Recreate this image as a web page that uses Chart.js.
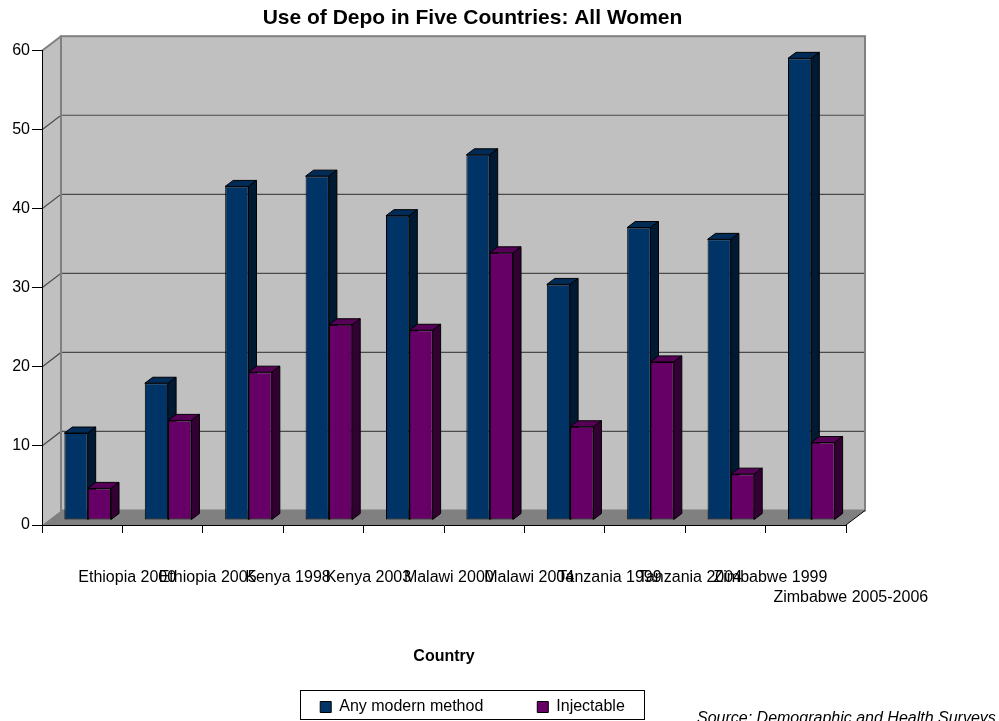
<!DOCTYPE html>
<html>
<head>
<meta charset="utf-8">
<script src="https://cdn.jsdelivr.net/npm/chart.js@4/dist/chart.umd.min.js"></script>
<style>
  html, body { margin: 0; padding: 0; background: #ffffff; }
  canvas { display: block; }
</style>
</head>
<body>
<canvas id="chart" width="999" height="721"></canvas>
<script>
// Survey rounds shown along the x axis
const categories = [
  'Ethiopia 2000', 'Ethiopia 2005', 'Kenya 1998', 'Kenya 2003', 'Malawi 2000',
  'Malawi 2004', 'Tanzania 1999', 'Tanzania 2004', 'Zimbabwe 1999', 'Zimbabwe 2005-2006'
];
// Percent of all women using each method
const anyModernMethod = [11.0, 17.3, 42.2, 43.5, 38.5, 46.2, 29.8, 37.0, 35.5, 58.4];
const injectable      = [4.0, 12.6, 18.7, 24.7, 24.0, 33.8, 11.8, 20.0, 5.8, 9.8];
const yTicks = [0, 10, 20, 30, 40, 50, 60];

const FONT = "'Liberation Sans', Arial, Helvetica, sans-serif";

// Depth of the box (walls, floor) and of the bars
const WALL_DX = 19, WALL_DY = 14.5;
const BAR_SHIFT_X = 5.5, BAR_SHIFT_Y = 5;
const BAR_DX = 8, BAR_DY = 6;

Chart.defaults.font.family = FONT;
Chart.defaults.font.size = 16;
Chart.defaults.color = '#000000';

function poly(ctx, pts, fill, stroke, lw) {
  ctx.beginPath();
  ctx.moveTo(pts[0][0], pts[0][1]);
  for (let i = 1; i < pts.length; i++) ctx.lineTo(pts[i][0], pts[i][1]);
  ctx.closePath();
  if (fill) { ctx.fillStyle = fill; ctx.fill(); }
  if (stroke) { ctx.strokeStyle = stroke; ctx.lineWidth = lw || 1; ctx.stroke(); }
}

// Walls, floor, wall gridlines and bar depth faces
const box3d = {
  id: 'box3d',
  beforeDraw(chart) {
    const ctx = chart.ctx;
    const {left, right, top, bottom} = chart.chartArea;
    const yScale = chart.scales.y;
    ctx.save();
    // side wall
    poly(ctx, [[left, top], [left + WALL_DX, top - WALL_DY], [left + WALL_DX, bottom - WALL_DY], [left, bottom]], '#c0c0c0');
    // back wall
    ctx.fillStyle = '#c0c0c0';
    ctx.fillRect(left + WALL_DX, top - WALL_DY, right - left, bottom - top);
    // gridlines across side and back walls
    ctx.strokeStyle = '#4a4a4a';
    ctx.lineWidth = 1.2;
    yScale.ticks.forEach(t => {
      if (t.value === yScale.min || t.value === yScale.max) return;
      const py = yScale.getPixelForValue(t.value);
      ctx.beginPath();
      ctx.moveTo(left, py);
      ctx.lineTo(left + WALL_DX, py - WALL_DY);
      ctx.lineTo(right + WALL_DX, py - WALL_DY);
      ctx.stroke();
    });
    // wall outlines
    ctx.strokeStyle = '#808080';
    ctx.lineWidth = 2;
    ctx.strokeRect(left + WALL_DX, top - WALL_DY, right - left, bottom - top);
    ctx.beginPath();
    ctx.moveTo(left, top);
    ctx.lineTo(left + WALL_DX, top - WALL_DY);
    ctx.stroke();
    // floor
    poly(ctx, [[left, bottom], [right, bottom], [right + WALL_DX, bottom - WALL_DY], [left + WALL_DX, bottom - WALL_DY]], '#808080');
    ctx.strokeStyle = '#000000';
    ctx.lineWidth = 1;
    ctx.beginPath();
    ctx.moveTo(right, bottom);
    ctx.lineTo(right + WALL_DX, bottom - WALL_DY);
    ctx.stroke();
    ctx.restore();
  },
  beforeDatasetsDraw(chart) {
    const ctx = chart.ctx;
    ctx.save();
    ctx.translate(BAR_SHIFT_X, -BAR_SHIFT_Y);
    // top and side faces go down first; the front faces drawn by the
    // library afterwards cover whatever lies behind them
    chart.data.datasets.forEach((ds, i) => {
      chart.getDatasetMeta(i).data.forEach(bar => {
        const {x, y, base, width} = bar.getProps(['x', 'y', 'base', 'width'], true);
        const x0 = x - width / 2, x1 = x + width / 2;
        poly(ctx, [[x0, y], [x1, y], [x1 + BAR_DX, y - BAR_DY], [x0 + BAR_DX, y - BAR_DY]], ds.topColor, '#000000', 1);
        poly(ctx, [[x1, y], [x1 + BAR_DX, y - BAR_DY], [x1 + BAR_DX, base - BAR_DY], [x1, base]], ds.sideColor, '#000000', 1);
      });
    });
  },
  afterDatasetsDraw(chart) {
    chart.ctx.restore();
  },
  afterDraw(chart) {
    const ctx = chart.ctx;
    ctx.save();
    // frame around the legend
    const hb = chart.legend.legendHitBoxes;
    if (hb && hb.length) {
      const l = Math.min(...hb.map(h => h.left)) - 20;
      const r = Math.max(...hb.map(h => h.left + h.width)) + 19;
      const t = hb[0].top - 9;
      const b = hb[0].top + hb[0].height + 4;
      ctx.strokeStyle = '#000000';
      ctx.lineWidth = 1;
      ctx.strokeRect(Math.round(l) + 0.5, Math.round(t) + 0.5, Math.round(r - l), Math.round(b - t));
    }
    // source note
    ctx.fillStyle = '#000000';
    ctx.font = 'italic 16px ' + FONT;
    ctx.textAlign = 'left';
    ctx.textBaseline = 'alphabetic';
    ctx.fillText('Source: Demographic and Health Surveys', 697, 723);
    ctx.restore();
  }
};

new Chart(document.getElementById('chart'), {
  type: 'bar',
  data: {
    labels: categories,
    datasets: [
      {
        label: 'Any modern method',
        data: anyModernMethod,
        backgroundColor: '#003366',
        topColor: '#002b57',
        sideColor: '#001a33',
        borderColor: '#000000',
        borderWidth: 1,
        borderSkipped: false,
        clip: false
      },
      {
        label: 'Injectable',
        data: injectable,
        backgroundColor: '#660066',
        topColor: '#570057',
        sideColor: '#330033',
        borderColor: '#000000',
        borderWidth: 1,
        borderSkipped: false,
        clip: false
      }
    ]
  },
  options: {
    responsive: false,
    animation: false,
    devicePixelRatio: 1,
    categoryPercentage: 0.58,
    barPercentage: 1.0,
    layout: { padding: { left: 0, right: 54, top: 0, bottom: -4 } },
    plugins: {
      title: {
        display: true,
        text: 'Use of Depo in Five Countries: All Women',
        font: { size: 21, weight: 'bold' },
        color: '#000000',
        padding: { top: 5.4, bottom: 20.1 }
      },
      legend: {
        position: 'bottom',
        labels: {
          boxWidth: 11,
          boxHeight: 11,
          padding: 54,
          font: { size: 16 },
          color: '#000000'
        }
      },
      tooltip: { enabled: false }
    },
    scales: {
      x: {
        grid: { display: true, drawOnChartArea: false, drawTicks: true, tickLength: 8, color: '#000000' },
        border: { display: true, color: '#000000', width: 1 },
        ticks: {
          autoSkip: false,
          maxRotation: 0,
          minRotation: 0,
          padding: 35.4,
          labelOffset: 45,
          font: { size: 16 },
          color: '#000000',
          callback: (v, i) => i === categories.length - 1 ? ['', categories[i]] : categories[i]
        },
        title: {
          display: true,
          text: 'Country',
          font: { size: 16, weight: 'bold' },
          color: '#000000',
          padding: { top: 0, bottom: -21.6 }
        },
        afterFit: s => { s.height = 120; s.paddingLeft = 0; s.paddingRight = 0; }
      },
      y: {
        min: 0,
        max: 60,
        afterBuildTicks: s => { s.ticks = yTicks.map(v => ({ value: v })); },
        grid: { display: true, drawOnChartArea: false, drawTicks: true, tickLength: 10, color: '#000000' },
        border: { display: true, color: '#000000', width: 1 },
        ticks: { padding: 2, font: { size: 16 }, color: '#000000' },
        afterFit: s => { s.width = 42; }
      },
      depthSpace: {
        position: 'right',
        display: true,
        grid: { display: false },
        border: { display: false },
        ticks: { display: false },
        afterFit: s => { s.width = 99; }
      }
    }
  },
  plugins: [box3d]
});
</script>
</body>
</html>
